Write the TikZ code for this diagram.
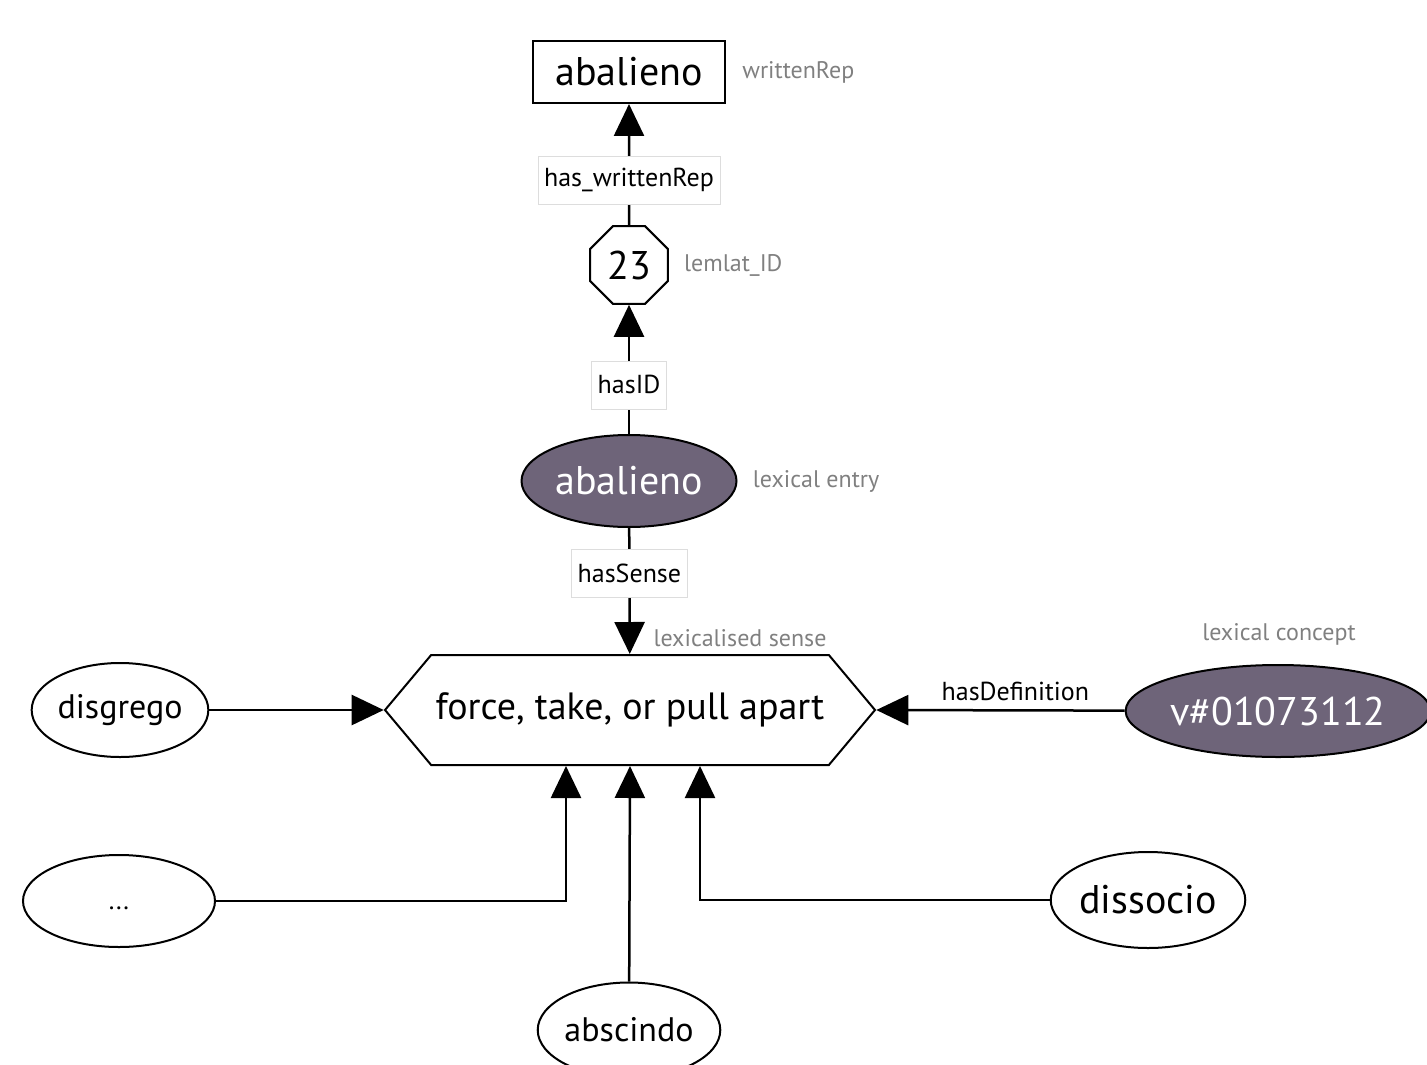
\documentclass[tikz,border=0pt]{standalone}
\usepackage{fontspec}
\setmainfont{PT Sans}
\usetikzlibrary{shapes.geometric, shapes.symbols, arrows.meta, positioning}
\definecolor{lexfill}{HTML}{6E6479}
\definecolor{notegray}{HTML}{808080}
\definecolor{boxgray}{HTML}{DDDDDD}
\tikzstyle{rec} = [rectangle, draw=black, line width=1pt, minimum width=96pt, minimum height=31pt, font=\fontsize{20}{24}\selectfont]
\tikzstyle{octa} = [regular polygon, regular polygon sides=8, draw=black, line width=1pt, minimum size=42pt, inner sep=0pt, font=\fontsize{20}{24}\selectfont]
\tikzstyle{lex} = [ellipse, draw=black, line width=1pt, inner sep=0pt, font=\fontsize{20}{24}\selectfont]
\tikzstyle{lexsmall} = [lex, font=\fontsize{17}{20}\selectfont]
\tikzstyle{lexdark} = [lex, fill=lexfill, text=white]
\tikzstyle{sense} = [signal, signal to=west and east, signal pointer angle=100, draw=black, line width=1pt, minimum width=245pt, minimum height=55pt, inner sep=0pt, font=\fontsize{19}{23}\selectfont]
\tikzstyle{lbl} = [rectangle, fill=white, draw=boxgray, line width=0.4pt, inner xsep=3pt, minimum height=24pt, font=\fontsize{13}{15}\selectfont]
\tikzstyle{note} = [text=notegray, inner sep=0pt, font=\fontsize{12}{14}\selectfont]
\tikzstyle{arrow} = [line width=1.25pt, -{Triangle[length=16pt,width=15pt]}]

\begin{document}
\begin{tikzpicture}[x=0.5pt, y=-0.5pt]
		\useasboundingbox (0,0) rectangle (1427,1064);
		% upper chain
		\node (rep) [rec] at (629,72) {abalieno};
		\node (id) [octa] at (629,265) {23};
		\node (entry) [lexdark, minimum width=107.5pt, minimum height=46pt] at (629,481) {abalieno};
		\node (sense) [sense] at (630,710) {force, take, or pull apart};
		\node (concept) [lexdark, minimum width=149.5pt, minimum height=46pt] at (1278,711) {v\#01073112};
		% other lexical entries
		\node (disgrego) [lexsmall, minimum width=87pt, minimum height=47pt] at (120,710) {disgrego};
		\node (dots) [lex, minimum width=96pt, minimum height=46pt] at (119,901) {\fontsize{13}{15}\selectfont\raisebox{-9pt}{...}};
		\node (abscindo) [lexsmall, minimum width=88pt, minimum height=47.5pt] at (629,1030) {abscindo};
		\node (dissocio) [lex, minimum width=95pt, minimum height=48pt] at (1148,900) {dissocio};
		\coordinate (inleft) at ([xshift=-32pt]sense.south);
		\coordinate (inright) at ([xshift=35pt]sense.south);
		% notes
		\node [note, anchor=west, right=8pt of rep] {writtenRep};
		\node [note, anchor=west, right=7.5pt of id] {lemlat\_ID};
		\node [note, anchor=west, right=7.5pt of entry] {lexical entry};
		\node [note] at (740,638) {lexicalised sense};
		\node [note] at (1279,634) {lexical concept};
		% relations
		\draw [arrow] (id) -- node[lbl, pos=0.37] {has\_writtenRep} (rep);
		\draw [arrow] (entry) -- node[lbl, pos=0.38] {hasID} (id);
		\draw [arrow] (entry) -- node[lbl, pos=0.36] {hasSense} (sense);
		\draw [arrow] (concept) -- node[above=1pt, pos=0.44, font=\fontsize{13}{15}\selectfont] {hasDefinition} (sense.east);
		\draw [arrow] (disgrego) -- (sense.west);
		\draw [arrow] (dots) -| (inleft);
		\draw [arrow] (abscindo) -- (sense.south);
		\draw [arrow] (dissocio.west) -| (inright);
	\end{tikzpicture}
\end{document}
